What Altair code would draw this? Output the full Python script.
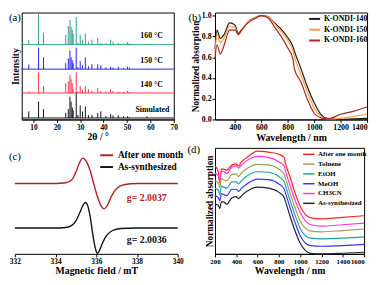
import altair as alt
import pandas as pd

FONT = "Liberation Serif"

# ---------------- (a) XRD ----------------
xrd_peaks = [8.0, 12.2, 14.3, 23.8, 24.9, 25.6, 26.1, 26.6, 27.0, 28.3, 29.0, 30.0, 31.0,
             32.2, 33.5, 35.0, 37.5, 38.8, 41.0, 43.0, 44.0, 46.3, 48.5, 50.2, 51.0, 58.5]
h_160 = [4.7, 31, 12, 10, 19, 25, 18, 15, 11, 28, 2, 10, 5, 11, 3, 5, 7, 2, 1.5, 5, 3, 1.5, 1, 2.5, 1.5, 0.5]
h_150 = [4.7, 22, 12, 6, 11, 19, 12, 9, 6, 22, 2, 8, 4, 12, 3, 5, 5, 4, 2, 2.5, 1.5, 2.5, 1, 2.5, 1.5, 0.5]
h_140 = [1.5, 21, 7, 10, 12, 18, 14, 10, 4, 21, 1.5, 7, 3, 7, 4, 2, 5, 2, 1.5, 4, 2, 1, 1, 2, 1, 0.5]
h_sim = [6.7, 16.7, 9, 5, 9, 21.7, 16.7, 10.7, 8, 26, 3, 13, 6.7, 11.7, 3, 3, 5, 6.7, 2, 4, 2.7, 2.7, 1.7, 1.7, 1, 1.7]
xrd_names = ["160 °C", "150 °C", "140 °C", "Simulated"]
xrd_heights = [h_160, h_150, h_140, h_sim]
xrd_baselines = [76.3, 51.3, 27.0, 1.5]
xrd_colors = ["#2f9e8a", "#2222ee", "#ff3344", "#111111"]
xrd_label_x = [55.7, 55.7, 55.7, 53.6]
xrd_label_y = [85, 60, 35, 9.7]
a_ticks = [10, 20, 30, 40, 50, 60, 70]

# ---------------- (b) UV-vis-NIR ----------------
b_wl = [250, 265, 290, 320, 360, 390, 405, 425, 450, 500, 550, 600, 650, 700, 750, 800,
        840, 850, 900, 950, 1000, 1050, 1100, 1200, 1300, 1400]
b_140 = [0.68, 0.86, 0.78, 0.82, 0.93, 0.92, 0.90, 0.83, 0.86, 0.94, 0.98, 1.0, 0.99, 0.93, 0.87, 0.79,
         0.70, 0.66, 0.49, 0.31, 0.16, 0.05, 0.01, 0.0, 0.005, 0.01]
b_150 = [0.63, 0.82, 0.74, 0.79, 0.90, 0.89, 0.88, 0.81, 0.85, 0.94, 0.98, 1.0, 0.99, 0.92, 0.85, 0.76,
         0.66, 0.61, 0.43, 0.26, 0.11, 0.03, 0.005, 0.01, 0.03, 0.05]
b_160 = [0.58, 0.72, 0.63, 0.72, 0.86, 0.86, 0.86, 0.82, 0.86, 0.93, 0.97, 1.0, 0.98, 0.89, 0.80, 0.69,
         0.58, 0.49, 0.36, 0.19, 0.06, 0.015, 0.005, 0.05, 0.08, 0.12]
b_names = ["K-ONDI-140", "K-ONDI-150", "K-ONDI-160"]
b_colors = ["#1a1a1a", "#ff9d3a", "#a8242a"]

# ---------------- (c) EPR ----------------
c_x_fresh = [332, 334.0, 334.5, 334.8, 335.0, 335.2, 335.35, 335.47, 335.6, 335.7, 335.8, 335.9,
             336.0, 336.06, 336.15, 336.3, 336.5, 336.8, 337.2, 338, 340]
c_y_fresh = [0, 0, 0.02, 0.1, 0.28, 0.62, 0.9, 1.0, 0.82, 0.45, -0.1, -0.6,
             -0.93, -1.0, -0.9, -0.6, -0.3, -0.1, -0.02, 0, 0]
c_x_month = [332, 334.0, 334.5, 334.8, 335.0, 335.15, 335.34, 335.5, 335.7, 335.87, 336.05, 336.25,
             336.39, 336.55, 336.75, 337.0, 337.4, 338, 340]
c_y_month = [1.75, 1.75, 1.78, 1.90, 2.20, 2.53, 2.75, 2.63, 2.25, 1.75, 1.25, 0.85,
             0.75, 0.90, 1.25, 1.55, 1.71, 1.75, 1.75]
c_names = ["After one month", "As-synthesized"]
c_colors = ["#b01e1e", "#111111"]
c_g_text = ["g= 2.0037", "g= 2.0036"]
c_g_x = [337.5, 337.5]
c_g_y = [1.19, -0.47]
c_ticks = [332, 334, 336, 338, 340]

# ---------------- (d) stability ----------------
d_wl = [200, 230, 245, 260, 280, 310, 360, 400, 420, 450, 500, 600, 700, 800, 850, 860,
        900, 950, 1000, 1050, 1100, 1200, 1400, 1600]
d_month = [0.83, 0.78, 0.67, 0.80, 0.80, 0.79, 0.84, 0.85, 0.83, 0.87, 0.91, 0.97, 0.96, 0.94, 0.91, 0.86,
           0.74, 0.58, 0.45, 0.37, 0.34, 0.33, 0.345, 0.36]
d_toluene = [0.69, 0.67, 0.63, 0.71, 0.70, 0.69, 0.75, 0.755, 0.73, 0.765, 0.805, 0.845, 0.84, 0.80, 0.75, 0.72,
             0.59, 0.44, 0.31, 0.24, 0.215, 0.208, 0.22, 0.235]
d_etoh = [0.62, 0.60, 0.56, 0.64, 0.63, 0.62, 0.68, 0.68, 0.66, 0.69, 0.735, 0.775, 0.77, 0.73, 0.68, 0.65,
          0.52, 0.37, 0.24, 0.17, 0.148, 0.142, 0.148, 0.16]
d_meoh = [0.55, 0.53, 0.50, 0.57, 0.56, 0.55, 0.61, 0.61, 0.59, 0.62, 0.66, 0.705, 0.70, 0.66, 0.61, 0.58,
          0.45, 0.30, 0.17, 0.10, 0.077, 0.072, 0.078, 0.09]
d_ch3cn = [0.76, 0.74, 0.70, 0.78, 0.78, 0.76, 0.82, 0.83, 0.81, 0.84, 0.88, 0.92, 0.91, 0.87, 0.83, 0.79,
           0.66, 0.51, 0.39, 0.31, 0.275, 0.262, 0.275, 0.29]
d_fresh = [0.47, 0.46, 0.43, 0.49, 0.49, 0.47, 0.53, 0.54, 0.52, 0.55, 0.59, 0.63, 0.62, 0.58, 0.53, 0.50,
           0.37, 0.22, 0.10, 0.03, 0.005, 0.0, 0.006, 0.015]
d_names = ["After one month", "Toluene", "EtOH", "MeOH", "CH3CN", "As-synthesized"]
d_series = [d_month, d_toluene, d_etoh, d_meoh, d_ch3cn, d_fresh]
d_colors = ["#ff2020", "#a89858", "#1fa39a", "#3535ff", "#ff33dd", "#222233"]

# ============ build tables ============
xrd_rows, xrd_base_rows = [], []
for name, base, hs in zip(xrd_names, xrd_baselines, xrd_heights):
    xrd_base_rows.append({"pattern": name, "base": base})
    for p, h in zip(xrd_peaks, hs):
        xrd_rows.append({"pattern": name, "pos": p, "base": base, "top": base + h})
xrd_df = pd.DataFrame(xrd_rows)
xrd_base_df = pd.DataFrame(xrd_base_rows)
xrd_lab_df = pd.DataFrame({"lx": xrd_label_x, "ly": xrd_label_y, "label": xrd_names})

b_df = pd.DataFrame([{"sample": n, "wl": w, "abs": v}
                     for n, vals in zip(b_names, [b_140, b_150, b_160]) for w, v in zip(b_wl, vals)])
c_df = pd.DataFrame([{"state": c_names[0], "field": x, "sig": y} for x, y in zip(c_x_month, c_y_month)] +
                    [{"state": c_names[1], "field": x, "sig": y} for x, y in zip(c_x_fresh, c_y_fresh)])
d_df = pd.DataFrame([{"solvent": n, "wl": w, "abs": v}
                     for n, vals in zip(d_names, d_series) for w, v in zip(d_wl, vals)])


def tag(label, dx, dy):
    return alt.Chart(pd.DataFrame({"t": [label]})).mark_text(
        align="left", baseline="top", font=FONT, fontSize=11, color="black"
    ).encode(x=alt.value(dx), y=alt.value(dy), text="t:N")


def lscale(dom, rng=None):
    if rng is None:
        return alt.Scale(domain=dom, nice=False, zero=False)
    return alt.Scale(domain=dom, range=rng, nice=False, zero=False)


def legend(x, y, size, font_size, row_pad, offset, sw=2):
    return alt.Legend(title=None, orient="none", legendX=x, legendY=y, symbolType="stroke",
                      symbolStrokeWidth=sw, symbolSize=size, labelFont=FONT, labelFontWeight="bold",
                      labelFontSize=font_size, rowPadding=row_pad, labelOffset=offset, labelColor="black")


# ---------- panel a ----------
WA, HA = 155, 109
sx_a = lscale([5, 70])
sy_a = lscale([0, 109])
col_a = alt.Color("pattern:N", scale=alt.Scale(domain=xrd_names, range=xrd_colors), legend=None)
peaks = alt.Chart(xrd_df).mark_rule(strokeWidth=1).encode(
    x=alt.X("pos:Q", scale=sx_a, axis=alt.Axis(values=a_ticks, tickCount=10, title="2θ / °", labelFlush=False)),
    y=alt.Y("base:Q", scale=sy_a, axis=alt.Axis(title="Intensity", labels=False, ticks=False, domain=False)),
    y2="top:Q", color=col_a)
bases = alt.Chart(xrd_base_df).mark_rule(strokeWidth=1).encode(
    x=alt.value(0), x2=alt.value(WA), y=alt.Y("base:Q", scale=sy_a), color=col_a)
xrd_labels = alt.Chart(xrd_lab_df).mark_text(
    align="left", baseline="middle", font=FONT, fontWeight="bold", fontSize=8, color="black"
).encode(x=alt.X("lx:Q", scale=sx_a), y=alt.Y("ly:Q", scale=sy_a), text="label:N")
panel_a = alt.layer(peaks, bases, xrd_labels, tag("(a)", -13, 0)).properties(width=WA, height=HA)

# ---------- panel b ----------
WB, HB = 155, 109
lines_b = alt.Chart(b_df).mark_line(strokeWidth=1.2, interpolate="monotone").encode(
    x=alt.X("wl:Q", scale=lscale([250, 1400]),
            axis=alt.Axis(values=[400, 600, 800, 1000, 1200, 1400], tickCount=10, format="d",
                          title="Wavelength / nm", labelFlush=False, labelFontSize=8,
                          labelAlign={"expr": "datum.value >= 1400 ? 'right' : 'center'"})),
    y=alt.Y("abs:Q", scale=lscale([0, 1.03]),
            axis=alt.Axis(values=[0, 0.2, 0.4, 0.6, 0.8, 1.0], tickCount=10, format=".1f",
                          title="Normalized absorption", titleFontSize=9.5, labelFontSize=8)),
    color=alt.Color("sample:N", scale=alt.Scale(domain=b_names, range=b_colors),
                    legend=legend(95, 0, 121, 8, -4.5, 3)),
    order=alt.Order("wl:Q"))
panel_b = alt.layer(lines_b, tag("(b)", -27, 0)).properties(width=WB, height=HB)

# ---------- panel c ----------
WC, HC = 158, 108
sx_c = lscale([332, 340], [-7, 159])
sy_c = lscale([-1.02, 3.15])
lines_c = alt.Chart(c_df).mark_line(strokeWidth=1.4, interpolate="monotone").encode(
    x=alt.X("field:Q", scale=sx_c,
            axis=alt.Axis(values=c_ticks, tickCount=10, title="Magnetic field / mT", labelFlush=False)),
    y=alt.Y("sig:Q", scale=sy_c, axis=None),
    color=alt.Color("state:N", scale=alt.Scale(domain=c_names, range=c_colors),
                    legend=legend(79, 0, 169, 9.5, -6, 4)),
    order=alt.Order("field:Q"))
g_month = alt.Chart(pd.DataFrame({"gx": c_g_x[:1], "gy": c_g_y[:1], "gt": c_g_text[:1]})).mark_text(
    align="left", baseline="middle", font=FONT, fontWeight="bold", fontSize=10, color=c_colors[0]
).encode(x=alt.X("gx:Q", scale=sx_c), y=alt.Y("gy:Q", scale=sy_c), text="gt:N")
g_fresh = alt.Chart(pd.DataFrame({"gx": c_g_x[1:], "gy": c_g_y[1:], "gt": c_g_text[1:]})).mark_text(
    align="left", baseline="middle", font=FONT, fontWeight="bold", fontSize=10, color=c_colors[1]
).encode(x=alt.X("gx:Q", scale=sx_c), y=alt.Y("gy:Q", scale=sy_c), text="gt:N")
panel_c = alt.layer(lines_c, g_month, g_fresh, tag("(c)", -13, 3)).properties(
    width=WC, height=HC, view=alt.ViewBackground(stroke="transparent"))

# ---------- panel d ----------
WD, HD = 152, 108
lines_d = alt.Chart(d_df).mark_line(strokeWidth=1.2, interpolate="monotone").encode(
    x=alt.X("wl:Q", scale=lscale([200, 1600]),
            axis=alt.Axis(values=[200, 400, 600, 800, 1000, 1200, 1400, 1600], tickCount=10, format="d",
                          title="Wavelength / nm", labelFlush=False, labelFontSize=7,
                          labelAlign={"expr": "datum.value >= 1600 ? 'right' : 'center'"})),
    y=alt.Y("abs:Q", scale=lscale([0, 1]),
            axis=alt.Axis(title="Normalized absorption", labels=False, ticks=False, domain=False,
                          titleFontSize=9.5)),
    color=alt.Color("solvent:N", scale=alt.Scale(domain=d_names, range=d_colors),
                    legend=legend(88.7, -0.5, 135, 7, -9.1, 2.4, sw=1.5)),
    order=alt.Order("wl:Q"))
panel_d = alt.layer(lines_d, tag("(d)", -28, -4)).properties(width=WD, height=HD)

chart = alt.concat(
    panel_a, panel_b, panel_c, panel_d, columns=2,
    spacing={"row": 29, "column": 39}, bounds="flush", align="none"
).resolve_scale(color="independent").properties(
    padding=0
).configure_view(stroke="black", strokeWidth=1).configure_axis(
    labelFont=FONT, titleFont=FONT, labelFontWeight="bold", titleFontWeight="bold",
    labelColor="black", titleColor="black", domainColor="black", tickColor="black",
    grid=False, labelFontSize=7.5, titleFontSize=10, tickSize=3, labelPadding=1, titlePadding=1,
    labelOverlap=False
)

chart.save("out.html", embed_options={"renderer": "svg", "actions": False})
